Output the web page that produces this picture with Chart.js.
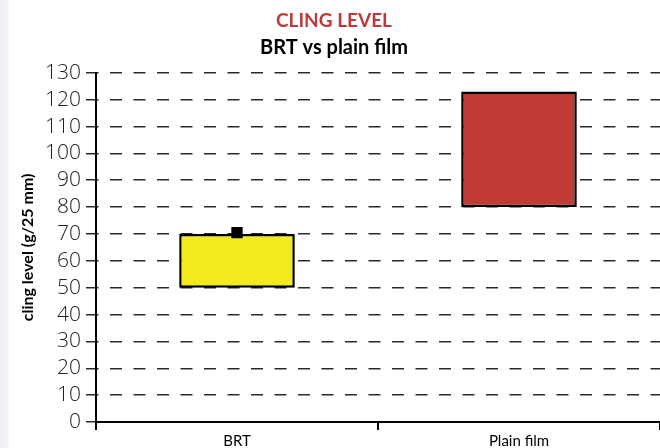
<!DOCTYPE html>
<html>
<head>
<meta charset="utf-8">
<script src="https://cdn.jsdelivr.net/npm/chart.js@4"></script>
<style>
  html, body { margin: 0; padding: 0; overflow: hidden; }
  body {
    width: 660px; height: 448px;
    background: linear-gradient(to right, #eceef2 0, #f3f4f7 8px, #fff 9px);
  }
  #wrap { position: relative; width: 668px; height: 448px; }
</style>
</head>
<body>
<div id="wrap"><canvas id="cling"></canvas></div>
<script>
const categories = ["BRT", "Plain film"];
const rangeLow = [50, 80];
const rangeHigh = [70, 123];
const markerValues = [70.5, null];
const yTicks = [0, 10, 20, 30, 40, 50, 60, 70, 80, 90, 100, 110, 120, 130];

const fontFamily = "Lato, 'Open Sans', sans-serif";

window.onload = function () {
  const ctx = document.getElementById("cling").getContext("2d");
  new Chart(ctx, {
    data: {
      labels: categories,
      datasets: [
        {
          type: "line",
          data: markerValues,
          showLine: false,
          pointStyle: "rect",
          pointRadius: 8,
          pointBackgroundColor: "#000",
          pointBorderWidth: 0,
          order: 0,
        },
        {
          type: "bar",
          data: categories.map((c, i) => [rangeLow[i], rangeHigh[i]]),
          backgroundColor: ["#f2ea1c", "#c23a36"],
          borderColor: "#000",
          borderWidth: 2.5,
          borderSkipped: false,
          categoryPercentage: 1,
          barPercentage: 0.41,
          order: 1,
        },
      ],
    },
    options: {
      responsive: true,
      maintainAspectRatio: false,
      animation: false,
      layout: { padding: { top: 9, right: 0, left: 0, bottom: 0 } },
      plugins: {
        legend: { display: false },
        tooltip: { enabled: false },
        title: {
          display: true,
          text: "CLING LEVEL",
          color: "#c0393a",
          font: { family: fontFamily, size: 19, weight: "bold" },
          padding: { top: 0, bottom: 4 },
        },
        subtitle: {
          display: true,
          text: "BRT vs plain film",
          color: "#000",
          font: { family: fontFamily, size: 20, weight: "bold" },
          padding: { top: 0, bottom: 13 },
        },
      },
      scales: {
        x: {
          grid: {
            offset: true,
            drawOnChartArea: false,
            color: "#000",
            lineWidth: 2,
            tickLength: 8,
          },
          border: { color: "#000", width: 2 },
          ticks: {
            color: "#000",
            padding: 2,
            font: { family: fontFamily, size: 15 },
          },
          afterFit: (scale) => { scale.height = 26; },
        },
        y: {
          min: 0,
          max: 130,
          afterBuildTicks: (scale) => { scale.ticks = yTicks.map((v) => ({ value: v })); },
          grid: {
            color: "#2a2a2a",
            lineWidth: 1.5,
            tickLength: 10,
            tickBorderDash: [],
            tickColor: "#2a2a2a",
          },
          border: { color: "#000", width: 2, dash: [12, 11.5], dashOffset: 10.5 },
          ticks: {
            autoSkip: false,
            color: "#222",
            padding: 5,
            font: { family: "'Open Sans', Lato, sans-serif", size: 21, weight: "300" },
          },
          title: {
            display: true,
            text: "cling level (g/25 mm)",
            color: "#000",
            font: { family: fontFamily, size: 16, weight: "bold" },
            padding: { top: 18, bottom: 0 },
          },
          afterFit: (scale) => { scale.width = 96; },
        },
      },
    },
  });
};
</script>
</body>
</html>
